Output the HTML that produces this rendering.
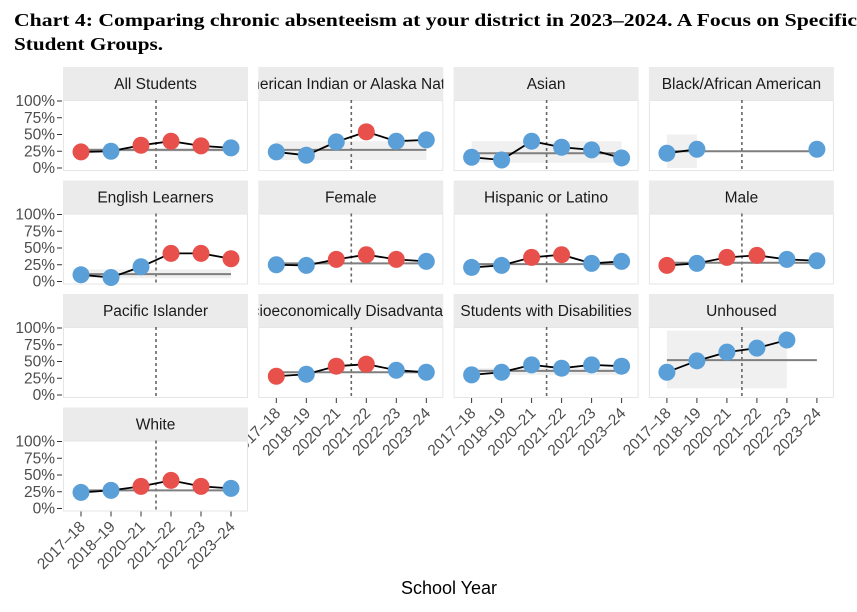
<!DOCTYPE html>
<html><head><meta charset="utf-8"><style>
body{margin:0;background:#fff;width:857px;height:607px;overflow:hidden}
svg text{font-family:"Liberation Sans",sans-serif}
</style></head><body>
<svg id="c" width="857" height="607" xmlns="http://www.w3.org/2000/svg">
<text x="14" y="26" font-weight="bold" font-size="17.5" textLength="843" lengthAdjust="spacingAndGlyphs" style="font-family:'Liberation Serif',serif">Chart 4: Comparing chronic absenteeism at your district in 2023–2024. A Focus on Specific</text>
<text x="14" y="50" font-weight="bold" font-size="17.5" textLength="149" lengthAdjust="spacingAndGlyphs" style="font-family:'Liberation Serif',serif">Student Groups.</text>
<text x="449" y="594" text-anchor="middle" font-size="18" fill="#000">School Year</text>
</svg>
<script>
const years=["2017–18","2018–19","2020–21","2021–22","2022–23","2023–24"];
const yTicks=[0,25,50,75,100];
const groups=["All Students","American Indian or Alaska Native","Asian","Black/African American","English Learners","Female","Hispanic or Latino","Male","Pacific Islander","Socioeconomically Disadvantaged","Students with Disabilities","Unhoused","White"];
const values=[
[24,25,34,40,33,30],[24,19,39,54,40,42],[16,12,40,31,27,15],[22,28,null,null,null,28],
[10,6,22,42,42,34],[25,24,33,40,33,30],[21,24,36,40,27,30],[24,27,36,39,33,31],
[null,null,null,null,null,null],[28,31,43,46,37,34],[30,34,45,40,45,43],[34,51,64,70,82,null],
[24,27,33,42,33,30]];
const flags=[ // 1 = red (above), 0 = blue
"101110","000100","000000","000000","000111","001110","001100","101100","000000","101100","000000","000000","001110"];
const means=[27,27,22,25,11,27,26,28,null,34,36,52,27];
const bandLo=[24,12,8,0,5,null,null,null,null,null,30,10,null];
const bandHi=[30,40,40,50,18,null,null,null,null,null,40,96,null];
const bandEnd=[5,5,5,1,5,0,0,0,0,0,5,4,0];
const svg=document.getElementById('c'),NS="http://www.w3.org/2000/svg";
function mk(t,a,p){const e=document.createElementNS(NS,t);for(const k in a)e.setAttribute(k,a[k]);(p||svg).appendChild(e);return e;}
const RED="#e8504c",BLUE="#5a9fd8";
groups.forEach((g,gi)=>{
  const c=gi%4,r=Math.floor(gi/4);
  const x0=63+c*195.3,y0=67+r*113.5,W=185,SH=33,PH=71,pt=y0+SH;
  const X=i=>x0+18+i*30, Y=v=>pt+68-v*0.67;
  const grp=mk('g',{});
  
  
  const st=mk('rect',{x:x0,y:y0,width:W,height:SH,fill:'#ebebeb'},grp);
  
  const cp=mk('clipPath',{id:'cp'+gi},grp);mk('rect',{x:x0,y:y0,width:W,height:SH},cp);
  const lt=mk('text',{x:x0+W/2,y:y0+22,'text-anchor':'middle','font-size':15.5,fill:'#1a1a1a','clip-path':'url(#cp'+gi+')'},grp);
  lt.textContent=g;
  mk('rect',{x:x0+0.5,y:pt+0.5,width:W-1,height:PH-1,fill:'#fff',stroke:'#e6e6e6'},grp);
  if(bandLo[gi]!=null){
    const b=mk('rect',{x:X(0),y:Y(bandHi[gi]),width:X(bandEnd[gi])-X(0),height:Y(bandLo[gi])-Y(bandHi[gi]),fill:'#ececec',opacity:0.8},grp);
    
  }
  const mx=(X(2)+X(3))/2;
  mk('line',{x1:mx,x2:mx,y1:pt,y2:pt+PH,stroke:'#666','stroke-width':1.6,'stroke-dasharray':'3,3'},grp);
  if(means[gi]!=null){
    const m=mk('line',{x1:X(0),x2:X(5),y1:Y(means[gi]),y2:Y(means[gi]),stroke:'#7f7f7f','stroke-width':2},grp);
    
  }
  const v=values[gi];
  let d='',started=false;
  v.forEach((val,i)=>{if(val==null){started=false;return;}d+=(started?'L':'M')+X(i)+','+Y(val);started=true;});
  if(d){const l=mk('path',{d:d,fill:'none',stroke:'#000','stroke-width':1.8},grp);}
  v.forEach((val,i)=>{if(val==null)return;
    const p=mk('circle',{cx:X(i),cy:Y(val),r:8.5,fill:flags[gi][i]=='1'?RED:BLUE},grp);
    });
  if(c==0){yTicks.forEach(t=>{
    mk('line',{x1:x0-6,x2:x0-1,y1:Y(t),y2:Y(t),stroke:'#333'},grp);
    const tt=mk('text',{x:x0-8,y:Y(t)+5,'text-anchor':'end','font-size':15.5,fill:'#4d4d4d'},grp);
    tt.textContent=t+'%';});}
  if((gi>=9) || gi==12){years.forEach((yr,i)=>{
    mk('line',{x1:X(i),x2:X(i),y1:pt+PH,y2:pt+PH+5,stroke:'#333'},grp);
    const tx=mk('text',{x:X(i)+5,y:pt+PH+16,'text-anchor':'end','font-size':15.5,fill:'#4d4d4d',transform:'rotate(-45 '+(X(i)+5)+' '+(pt+PH+16)+')'},grp);
    tx.textContent=yr;});}
});
</script>
</body></html>
